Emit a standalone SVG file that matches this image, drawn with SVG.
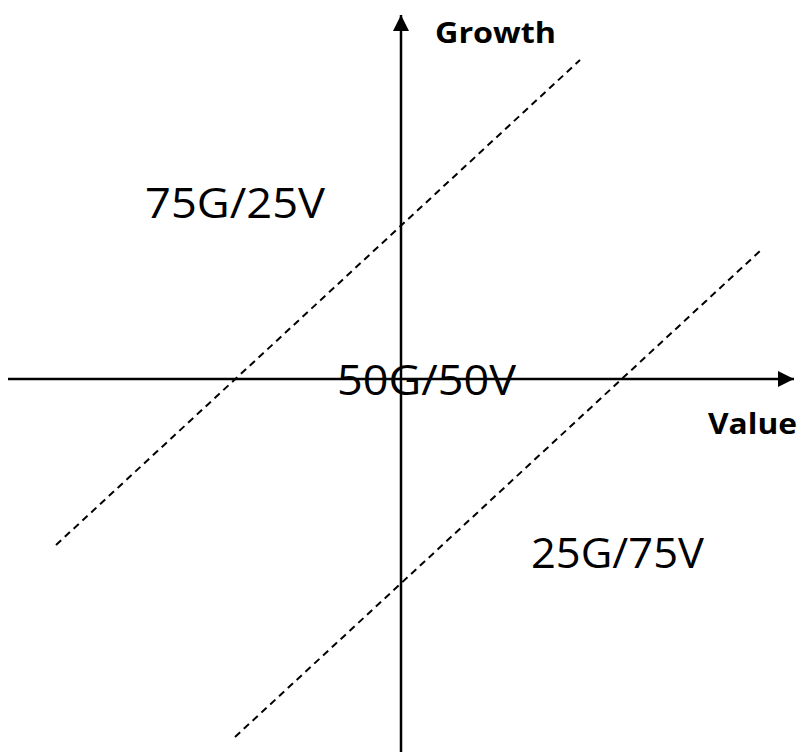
<svg xmlns="http://www.w3.org/2000/svg" width="807" height="756" viewBox="0 0 807 756">
<style>
.axis{stroke:#000;stroke-width:2.5;fill:none}
.dash{stroke:#000;stroke-width:2;stroke-dasharray:7,5;fill:none}
.big{font-family:"Open Sans","Liberation Sans",sans-serif;font-size:42px;fill:#000}
.lbl{font-family:"Open Sans","Liberation Sans",sans-serif;font-size:28px;font-weight:bold;fill:#000}
</style>
<defs>
<marker id="ah" viewBox="0 0 10 10" refX="10" refY="5" markerWidth="16" markerHeight="16" markerUnits="userSpaceOnUse" orient="auto">
<path d="M0,0 L10,5 L0,10 Z" fill="#000"/>
</marker>
</defs>
<rect width="807" height="756" fill="#fff"/>
<g id="connectors">
<line class="axis" x1="401" y1="752" x2="401" y2="15" marker-end="url(#ah)"/>
<line class="axis" x1="8" y1="379" x2="794" y2="379" marker-end="url(#ah)"/>
<line class="dash" x1="56" y1="545" x2="580" y2="60"/>
<line class="dash" x1="235" y1="737" x2="760" y2="251"/>
</g>
<g id="label-growth"><text class="lbl" x="435" y="43" textLength="121" lengthAdjust="spacingAndGlyphs">Growth</text></g>
<g id="label-value"><text class="lbl" x="708" y="434" textLength="89" lengthAdjust="spacingAndGlyphs">Value</text></g>
<g id="region-75g"><text class="big" x="145" y="218" textLength="180" lengthAdjust="spacingAndGlyphs">75G/25V</text></g>
<g id="region-50g"><text class="big" x="337" y="395" textLength="179" lengthAdjust="spacingAndGlyphs">50G/50V</text></g>
<g id="region-25g"><text class="big" x="531" y="568" textLength="173" lengthAdjust="spacingAndGlyphs">25G/75V</text></g>
</svg>
